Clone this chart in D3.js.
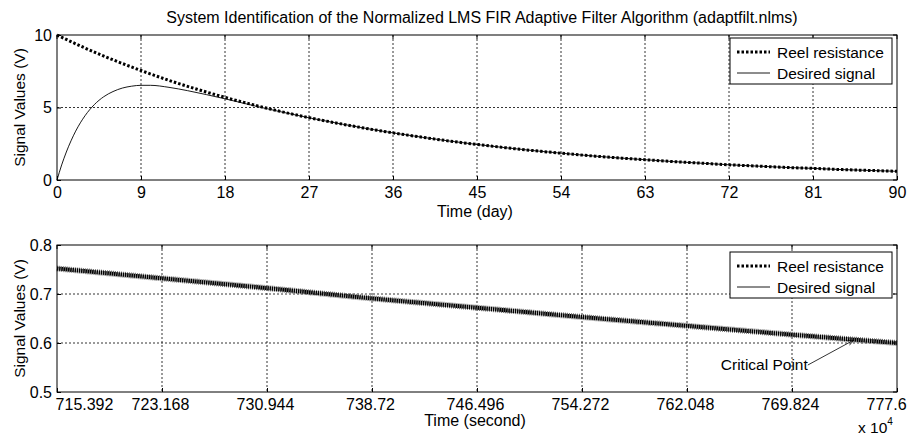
<!DOCTYPE html>
<html>
<head>
<meta charset="utf-8">
<script src="https://cdn.jsdelivr.net/npm/d3@7"></script>
<style>
  body { margin: 0; background: #fff; }
  svg { font-family: "Liberation Sans", Arial, sans-serif; }
  .grid line { stroke: #000; stroke-width: 0.8; stroke-dasharray: 2,2; }
  .tick text { font-size: 16px; fill: #000; }
</style>
</head>
<body>
<svg id="chart" width="912" height="437"></svg>
<script>
// ---- data ----
const chartTitle = 'System Identification of the Normalized LMS FIR Adaptive Filter Algorithm (adaptfilt.nlms)';
const seriesNames = ['Reel resistance', 'Desired signal'];

// top panel: time in days
const dayTicks = [0, 9, 18, 27, 36, 45, 54, 63, 72, 81, 90];
const voltTicksTop = [0, 5, 10];
const reelDays = [0, 3, 6, 9, 12, 15, 18, 21, 24, 27, 30, 33, 36, 39, 42, 45, 48, 51, 54, 57, 60, 63, 66, 69, 72, 75, 78, 81, 84, 87, 90];
const reelValues = [10, 9.10, 8.29, 7.55, 6.87, 6.26, 5.70, 5.19, 4.72, 4.30, 3.92, 3.57, 3.25, 2.96, 2.69, 2.45, 2.23, 2.03, 1.85, 1.68, 1.53, 1.40, 1.27, 1.16, 1.05, 0.96, 0.87, 0.80, 0.72, 0.66, 0.60];
const desiredDays = [0, 0.5, 1, 1.5, 2, 3, 4, 5, 6, 7, 8, 9, 10, 12, 14, 16, 18, 20, 22, 24, 27, 30, 33, 36, 39, 42, 45, 48, 51, 54, 57, 60, 63, 66, 69, 72, 75, 78, 81, 84, 87, 90];
const desiredValues = [0, 1.04, 1.93, 2.70, 3.37, 4.43, 5.20, 5.74, 6.10, 6.34, 6.47, 6.53, 6.53, 6.39, 6.16, 5.89, 5.60, 5.29, 4.99, 4.70, 4.29, 3.92, 3.57, 3.25, 2.96, 2.69, 2.45, 2.23, 2.03, 1.85, 1.68, 1.53, 1.40, 1.27, 1.16, 1.05, 0.96, 0.87, 0.80, 0.72, 0.66, 0.60];

// bottom panel: time in seconds (x 10^4)
const secondTicks = [715.392, 723.168, 730.944, 738.72, 746.496, 754.272, 762.048, 769.824, 777.6];
const secondTickLabels = ['715.392', '723.168', '730.944', '738.72', '746.496', '754.272', '762.048', '769.824', '777.6'];
const voltTicksBottom = [0.5, 0.6, 0.7, 0.8];
const zoomValues = [0.752, 0.732, 0.712, 0.691, 0.672, 0.653, 0.635, 0.617, 0.600];
const criticalPoint = { x: 774.4, y: 0.606, label: 'Critical Point' };

// ---- layout ----
const svg = d3.select('#chart');
const left = 57, right = 897;

svg.append('text')
  .attr('x', 482).attr('y', 23)
  .attr('text-anchor', 'middle')
  .attr('font-size', 16)
  .text(chartTitle);

function drawPanel(opts) {
  const g = svg.append('g');
  const x = d3.scaleLinear().domain(opts.xDomain).range([left, right]);
  const y = d3.scaleLinear().domain(opts.yDomain).range([opts.bottom, opts.top]);

  // grid
  g.append('g').attr('class', 'grid')
    .selectAll('line.v').data(opts.xTicks.slice(1, -1)).join('line')
    .attr('x1', d => x(d)).attr('x2', d => x(d))
    .attr('y1', opts.top).attr('y2', opts.bottom);
  g.append('g').attr('class', 'grid')
    .selectAll('line.h').data(opts.yTicks.slice(1, -1)).join('line')
    .attr('x1', left).attr('x2', right)
    .attr('y1', d => y(d)).attr('y2', d => y(d));

  // axes (MATLAB style: inward ticks)
  const xAxis = d3.axisBottom(x).tickValues(opts.xTicks).tickSize(-4).tickPadding(7)
    .tickFormat((d, i) => opts.xLabels[i]);
  const xg = g.append('g').attr('transform', `translate(0,${opts.bottom})`).call(xAxis);
  xg.select('.domain').remove();
  xg.selectAll('.tick line').attr('stroke', '#000');
  if (opts.xLabelShift) xg.selectAll('.tick text').attr('dx', (d, i) => opts.xLabelShift(i));

  const yAxis = d3.axisLeft(y).tickValues(opts.yTicks).tickSize(-4).tickPadding(5)
    .tickFormat(opts.yFormat);
  const yg = g.append('g').attr('transform', `translate(${left},0)`).call(yAxis);
  yg.select('.domain').remove();
  yg.selectAll('.tick line').attr('stroke', '#000');

  // right/top ticks
  g.append('g').selectAll('line').data(opts.xTicks).join('line')
    .attr('x1', d => x(d)).attr('x2', d => x(d))
    .attr('y1', opts.top).attr('y2', opts.top + 4).attr('stroke', '#000');
  g.append('g').selectAll('line').data(opts.yTicks).join('line')
    .attr('x1', right - 4).attr('x2', right)
    .attr('y1', d => y(d)).attr('y2', d => y(d)).attr('stroke', '#000');

  // labels
  g.append('text')
    .attr('transform', `translate(25,${(opts.top + opts.bottom) / 2}) rotate(-90)`)
    .attr('text-anchor', 'middle').attr('font-size', 15.5)
    .text('Signal Values (V)');
  g.append('text')
    .attr('x', (left + right) / 2 - 2).attr('y', opts.bottom + opts.xTitleOffset)
    .attr('text-anchor', 'middle').attr('font-size', 16)
    .text(opts.xTitle);

  return { g, x, y };
}

function drawLegend(g, legTop) {
  const lx = 730, lw = 162, lh = 46;
  const lg = g.append('g');
  lg.append('rect').attr('x', lx).attr('y', legTop).attr('width', lw).attr('height', lh)
    .attr('fill', '#fff').attr('stroke', '#000').attr('stroke-width', 1);
  seriesNames.forEach((name, i) => {
    const cy = legTop + 14 + i * 21;
    lg.append('line').attr('x1', lx + 7).attr('x2', lx + 40).attr('y1', cy).attr('y2', cy)
      .attr('stroke', '#000')
      .attr('stroke-width', i === 0 ? 3 : 0.9)
      .attr('stroke-dasharray', i === 0 ? '2.5,2' : null);
    lg.append('text').attr('x', lx + 47).attr('y', cy + 6)
      .attr('font-size', 15.5).text(name);
  });
}

// ---- top panel ----
const topPanel = drawPanel({
  top: 35, bottom: 180,
  xDomain: [0, 90], yDomain: [0, 10],
  xTicks: dayTicks, yTicks: voltTicksTop,
  xLabels: dayTicks.map(String), yFormat: d3.format('d'),
  xTitle: 'Time (day)', xTitleOffset: 37
});

const lineTop = (xs) => d3.line()
  .x((d, i) => topPanel.x(xs[i]))
  .y(d => topPanel.y(d))
  .curve(d3.curveMonotoneX);

topPanel.g.append('path')
  .attr('d', lineTop(desiredDays)(desiredValues))
  .attr('fill', 'none').attr('stroke', '#000').attr('stroke-width', 0.9);
topPanel.g.append('path')
  .attr('d', lineTop(reelDays)(reelValues))
  .attr('fill', 'none').attr('stroke', '#000').attr('stroke-width', 3)
  .attr('stroke-dasharray', '2.5,2');

topPanel.g.append('rect').attr('x', left).attr('y', 35).attr('width', right - left).attr('height', 145)
  .attr('fill', 'none').attr('stroke', '#000').attr('stroke-width', 1);
drawLegend(topPanel.g, 38);

// ---- bottom panel ----
const botPanel = drawPanel({
  top: 245, bottom: 392,
  xDomain: [secondTicks[0], secondTicks[secondTicks.length - 1]], yDomain: [0.5, 0.8],
  xTicks: secondTicks, yTicks: voltTicksBottom,
  xLabels: secondTickLabels, yFormat: d3.format('.1f'),
  xLabelShift: i => i === 0 ? 27 : (i === secondTicks.length - 1 ? -11 : -2),
  xTitle: 'Time (second)', xTitleOffset: 34
});

const lineBot = d3.line()
  .x((d, i) => botPanel.x(secondTicks[i]))
  .y(d => botPanel.y(d))
  .curve(d3.curveMonotoneX);

// desired signal: noisy band around the reel resistance
botPanel.g.append('path')
  .attr('d', lineBot(zoomValues))
  .attr('fill', 'none').attr('stroke', '#777').attr('stroke-width', 6)
  .attr('stroke-dasharray', '1,1');
botPanel.g.append('path')
  .attr('d', lineBot(zoomValues))
  .attr('fill', 'none').attr('stroke', '#000').attr('stroke-width', 4)
  .attr('stroke-dasharray', '1.5,0.7');

botPanel.g.append('rect').attr('x', left).attr('y', 245).attr('width', right - left).attr('height', 147)
  .attr('fill', 'none').attr('stroke', '#000').attr('stroke-width', 1);
drawLegend(botPanel.g, 252);

// x 10^4 exponent
const ex = botPanel.g.append('text').attr('x', 858).attr('y', 433).attr('font-size', 15.5);
ex.append('tspan').text('x 10');
ex.append('tspan').attr('dy', -8).attr('font-size', 10).text('4');

// critical point annotation
svg.append('defs').append('marker')
  .attr('id', 'arrow').attr('viewBox', '0 0 10 10')
  .attr('refX', 10).attr('refY', 5)
  .attr('markerWidth', 8).attr('markerHeight', 8)
  .attr('orient', 'auto')
  .append('path').attr('d', 'M0,1 L10,5 L0,9')
  .attr('fill', 'none').attr('stroke', '#000').attr('stroke-width', 1);

const cpx = botPanel.x(criticalPoint.x), cpy = botPanel.y(criticalPoint.y);
botPanel.g.append('line')
  .attr('x1', cpx - 46).attr('y1', cpy + 25)
  .attr('x2', cpx).attr('y2', cpy)
  .attr('stroke', '#000').attr('stroke-width', 0.8)
  .attr('marker-end', 'url(#arrow)');
botPanel.g.append('text')
  .attr('x', cpx - 46).attr('y', cpy + 30)
  .attr('text-anchor', 'end').attr('font-size', 15.5)
  .text(criticalPoint.label);
</script>
</body>
</html>
